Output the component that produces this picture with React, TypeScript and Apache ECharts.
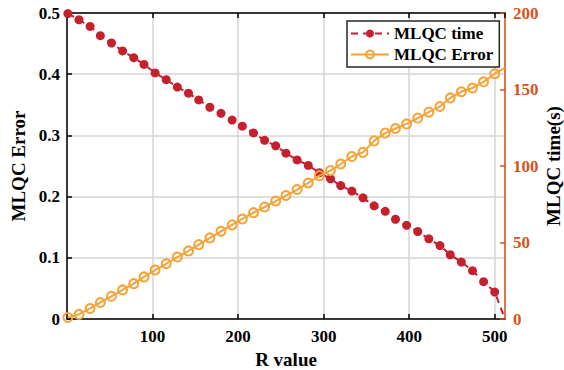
import React, { useEffect, useRef } from "react";
import * as echarts from "echarts";

const R = [1, 14, 27, 39, 52, 65, 78, 90, 103, 116, 129, 142, 154, 167, 180, 193, 205, 218, 231, 244, 256, 269, 282, 295, 308, 320, 333, 346, 359, 372, 384, 397, 410, 423, 436, 448, 461, 474, 487, 500, 512];
const timeVals = [0.499, 0.489, 0.478, 0.463, 0.451, 0.438, 0.427, 0.416, 0.402, 0.391, 0.379, 0.369, 0.358, 0.346, 0.336, 0.325, 0.315, 0.304, 0.292, 0.283, 0.271, 0.26, 0.251, 0.239, 0.229, 0.218, 0.209, 0.198, 0.185, 0.176, 0.163, 0.153, 0.143, 0.131, 0.12, 0.105, 0.093, 0.079, 0.061, 0.044, 0.0];
const errorVals = [1.0, 3.0, 6.9, 10.8, 14.8, 19.0, 23.1, 27.5, 32.0, 36.1, 40.5, 44.5, 48.6, 53.0, 57.3, 61.5, 65.4, 69.5, 73.2, 77.1, 80.7, 84.6, 88.9, 93.7, 97.0, 101.3, 106.2, 108.9, 116.4, 121.5, 124.5, 127.5, 131.3, 135.2, 138.9, 144.5, 148.5, 151.0, 155.0, 160.3, 164.1];
const leftTicks = [0, 0.1, 0.2, 0.3, 0.4, 0.5];
const rightTicks = [0, 50, 100, 150, 200];
const xTicks = [100, 200, 300, 400, 500];

const FONT = "'Liberation Serif', 'Times New Roman', serif";
const RED = "#C4202E";
const ORANGE = "#F5A236";
const AXIS_ORANGE = "#D95319";

export default function App() {
  const ref = useRef<HTMLDivElement>(null);
  useEffect(() => {
    if (!ref.current) return;
    document.body.style.margin = "0";
    document.body.style.overflow = "hidden";
    const chart = echarts.init(ref.current, null, { renderer: "svg", width: 564, height: 370 });
    const lastIdx = R.length - 1;
    const timeData = R.map((r, i) =>
      i === lastIdx ? { value: [r, timeVals[i]], symbol: "none" } : { value: [r, timeVals[i]] }
    );
    const errData = R.map((r, i) =>
      i === lastIdx ? { value: [r, errorVals[i]], symbol: "none" } : { value: [r, errorVals[i]] }
    );
    const labelStyle = { fontFamily: FONT, fontWeight: "bold" as const, fontSize: 17, color: "#000" };
    chart.setOption({
      animation: false,
      backgroundColor: "#fff",
      grid: { left: 67, right: 59, top: 13, bottom: 51, containLabel: false, outerBoundsMode: "none" },
      legend: {
        orient: "vertical",
        left: 347,
        top: 21,
        data: ["MLQC time", "MLQC Error"],
        backgroundColor: "#fff",
        borderColor: "#262626",
        borderWidth: 1.5,
        borderRadius: 0,
        padding: [4, 6, 4, 3],
        itemGap: 4,
        itemWidth: 38,
        itemHeight: 10,
        textStyle: { fontFamily: FONT, fontWeight: "bold", fontSize: 17, color: "#000", lineHeight: 17 },
      },
      xAxis: [
        {
          type: "value",
          min: 0,
          max: 512,
          interval: 100,
          position: "bottom",
          name: "R value",
          nameLocation: "middle",
          nameGap: 30,
          nameTextStyle: { fontFamily: FONT, fontWeight: "bold", fontSize: 19, color: "#000" },
          axisLine: { show: true, onZero: false, lineStyle: { color: "#000", width: 1.5 } },
          axisTick: { show: true, inside: true, length: 5, lineStyle: { color: "#000", width: 1.5 } },
          axisLabel: {
            ...labelStyle,
            margin: 9,
            showMinLabel: false,
            showMaxLabel: false,
            formatter: (v: number) => (xTicks.includes(v) ? String(v) : ""),
          },
          splitLine: { show: true, lineStyle: { color: "#d4d4d4", width: 1.5 } },
        },
        {
          type: "value",
          min: 0,
          max: 512,
          interval: 100,
          position: "top",
          axisLine: { show: true, onZero: false, lineStyle: { color: "#000", width: 1.5 } },
          axisTick: { show: true, inside: true, length: 5, lineStyle: { color: "#000", width: 1.5 } },
          axisLabel: { show: false },
          splitLine: { show: false },
        },
      ],
      yAxis: [
        {
          type: "value",
          min: 0,
          max: 0.5,
          interval: 0.1,
          position: "left",
          name: "MLQC Error",
          nameLocation: "middle",
          nameRotate: 90,
          nameGap: 38,
          nameTextStyle: { fontFamily: FONT, fontWeight: "bold", fontSize: 19, color: "#000" },
          axisLine: { show: true, onZero: false, lineStyle: { color: "#000", width: 1.5 } },
          axisTick: { show: true, inside: true, length: 5, lineStyle: { color: "#000", width: 1.5 } },
          axisLabel: {
            ...labelStyle,
            margin: 7,
            formatter: (v: number) => {
              const t = leftTicks.find((x) => Math.abs(x - v) < 1e-9);
              return t === undefined ? "" : t === 0 ? "0" : t.toFixed(1);
            },
          },
          splitLine: { show: true, lineStyle: { color: "#d4d4d4", width: 1.5 } },
        },
        {
          type: "value",
          min: 0,
          max: 200,
          interval: 50,
          position: "right",
          name: "MLQC time(s)",
          nameLocation: "middle",
          nameRotate: 90,
          nameGap: 39,
          nameMoveOverlap: false,
          nameTextStyle: { fontFamily: FONT, fontWeight: "bold", fontSize: 19, color: "#000" },
          axisLine: { show: true, onZero: false, lineStyle: { color: AXIS_ORANGE, width: 1.5 } },
          axisTick: { show: true, inside: true, length: 5, lineStyle: { color: AXIS_ORANGE, width: 1.5 } },
          axisLabel: {
            ...labelStyle,
            color: AXIS_ORANGE,
            margin: 8,
            formatter: (v: number) => (rightTicks.includes(v) ? String(v) : ""),
          },
          splitLine: { show: false },
        },
      ],
      series: [
        {
          name: "MLQC time",
          type: "line",
          xAxisIndex: 0,
          yAxisIndex: 0,
          data: timeData,
          symbol: "circle",
          symbolSize: 9,
          showAllSymbol: true,
          color: RED,
          itemStyle: { color: RED, borderWidth: 0 },
          lineStyle: { color: RED, width: 2, type: [7, 5] },
          z: 2,
        },
        {
          name: "MLQC Error",
          type: "line",
          xAxisIndex: 0,
          yAxisIndex: 1,
          data: errData,
          symbol: "circle",
          symbolSize: 9,
          showAllSymbol: true,
          color: ORANGE,
          itemStyle: { color: "rgba(255,255,255,0)", borderColor: ORANGE, borderWidth: 2 },
          lineStyle: { color: ORANGE, width: 2 },
          z: 3,
        },
      ],
    });
    return () => chart.dispose();
  }, []);
  return (
    <div
      ref={ref}
      style={{ position: "absolute", left: 0, top: 0, width: 564, height: 370, background: "#fff" }}
    />
  );
}
